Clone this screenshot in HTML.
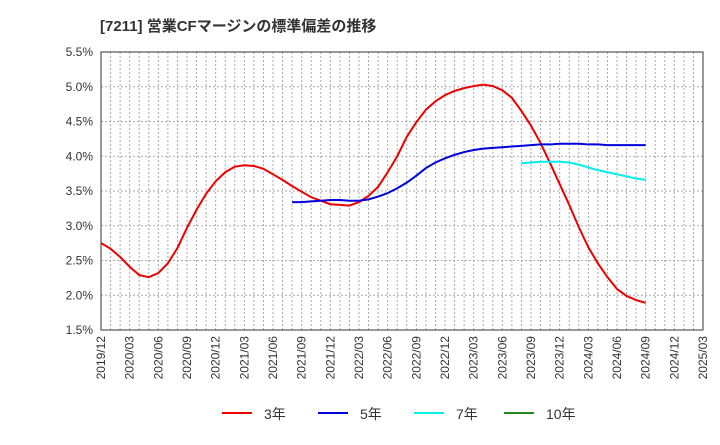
<!DOCTYPE html>
<html><head><meta charset="utf-8"><style>
body{margin:0;background:#fff;width:720px;height:440px;overflow:hidden;font-family:"Liberation Sans","Noto Sans CJK JP",sans-serif}
</style></head><body>
<svg id="c" width="720" height="440" xmlns="http://www.w3.org/2000/svg">
<text x="100" y="31" font-size="15" font-weight="bold" fill="#333" font-family="Liberation Sans, Noto Sans CJK JP, sans-serif">[7211]  営業CFマージンの標準偏差の推移</text>
</svg>
<script>
const yTicks=[1.5,2.0,2.5,3.0,3.5,4.0,4.5,5.0,5.5];
const xTickLabels=["2019/12","2020/03","2020/06","2020/09","2020/12","2021/03","2021/06","2021/09","2021/12","2022/03","2022/06","2022/09","2022/12","2023/03","2023/06","2023/09","2023/12","2024/03","2024/06","2024/09","2024/12","2025/03"];
const s3Start=0;
const s3=[2.75,2.67,2.55,2.41,2.29,2.26,2.32,2.46,2.68,2.97,3.23,3.46,3.64,3.77,3.85,3.87,3.86,3.82,3.74,3.66,3.57,3.49,3.41,3.36,3.31,3.30,3.29,3.34,3.43,3.56,3.77,4.00,4.28,4.49,4.67,4.79,4.88,4.94,4.98,5.01,5.03,5.01,4.95,4.84,4.65,4.44,4.19,3.90,3.60,3.30,2.98,2.69,2.46,2.26,2.09,1.99,1.93,1.89];
const s5Start=20;
const s5=[3.34,3.34,3.35,3.36,3.37,3.37,3.36,3.36,3.38,3.42,3.47,3.54,3.62,3.72,3.83,3.91,3.97,4.02,4.06,4.09,4.11,4.12,4.13,4.14,4.15,4.16,4.17,4.17,4.18,4.18,4.18,4.17,4.17,4.16,4.16,4.16,4.16,4.16];
const s7Start=44;
const s7=[3.90,3.91,3.92,3.92,3.92,3.91,3.88,3.84,3.80,3.77,3.74,3.71,3.68,3.66];
const L=101,R=703,T=52,B=330,NM=63;
const X=i=>L+i*(R-L)/NM;
const Y=v=>B-(v-1.5)/4*(B-T);
const svg=document.getElementById('c');const NS='http://www.w3.org/2000/svg';
function mk(t,a){const e=document.createElementNS(NS,t);for(const k in a)e.setAttribute(k,a[k]);svg.appendChild(e);return e;}
for(let i=1;i<NM;i++){const g=mk('line',{x1:X(i),x2:X(i),y1:T,y2:B,stroke:'#aaa','stroke-dasharray':'2,2','stroke-width':1});

}
yTicks.forEach(v=>{const g=mk('line',{x1:L,x2:R,y1:Y(v),y2:Y(v),stroke:'#aaa','stroke-dasharray':'2,2','stroke-width':1});


const t=mk('text',{x:93,y:Y(v)+4,'text-anchor':'end','font-size':12,fill:'#333'});t.textContent=v.toFixed(1)+'%';

});
xTickLabels.forEach((s,k)=>{const x=X(k*3);const t=mk('text',{x:0,y:0,transform:`translate(${x+4},336) rotate(-90)`,'text-anchor':'end','font-size':12,fill:'#333'});t.textContent=s;

});
const fr=mk('rect',{x:L,y:T,width:R-L,height:B-T,fill:'none',stroke:'#333','stroke-width':1});


function line(arr,st,col,name){const p=mk('polyline',{points:arr.map((v,i)=>X(st+i)+','+Y(v)).join(' '),fill:'none',stroke:col,'stroke-width':2});

}
line(s3,s3Start,'#e00','series-3y');line(s5,s5Start,'#00d','series-5y');line(s7,s7Start,'#0ee','series-7y');
const leg=[['3年','#e00',222],['5年','#00d',318],['7年','#0ee',414],['10年','#282',504]];
leg.forEach(([n,c,x])=>{const l=mk('line',{x1:x,x2:x+30,y1:413,y2:413,stroke:c,'stroke-width':2});


const t=mk('text',{x:x+42,y:419,'font-size':14,fill:'#333'});t.textContent=n;

});
</script>
</body></html>
